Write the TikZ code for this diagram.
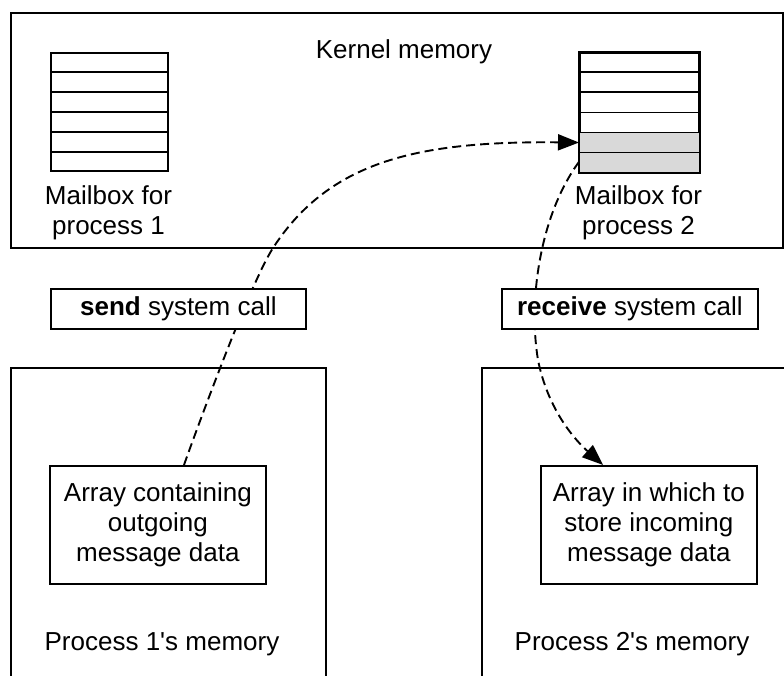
\documentclass[tikz,border=0pt]{standalone}
\usepackage{fontspec}
\setmainfont{Liberation Sans}[Ligatures=TeXOff]
\usetikzlibrary{arrows.meta,calc}
\begin{document}
\begin{tikzpicture}[x=1pt,y=-1pt,
  box/.style={draw,line width=1.7pt,inner sep=0pt,anchor=north west},
  lbl/.style={font=\fontsize{26}{30}\selectfont,align=center,inner sep=0pt},
  callbox/.style={box,fill=white,font=\fontsize{26}{30}\selectfont},
  arrbox/.style={box,fill=white,align=center,font=\fontsize{26}{30}\selectfont},
  rowline/.style={line width=1.7pt},
  flow/.style={line width=1.9pt,dash pattern=on 9pt off 5pt,-{Triangle[length=21pt,width=16pt]}}]
\useasboundingbox (0,0) rectangle (784,675);
\path[clip] (0,0) rectangle (784,675);

% kernel memory
\node[box,minimum width=772pt,minimum height=235pt] (kernel) at (10,12) {};
\node[lbl,anchor=base] (kl) at (404,58) {Kernel memory};

% mailbox 1
\node[box,minimum width=117pt,minimum height=118pt] (mb1) at (50,52) {};
\foreach \k in {1,...,5}
  \draw[rowline] ($(mb1.north west)!\k/6!(mb1.south west)$) -- ($(mb1.north east)!\k/6!(mb1.south east)$);
\node[lbl] (mb1l) at (108.5,213) {Mailbox for\\process 1};

% mailbox 2
\node[box,minimum width=119pt,minimum height=119pt] (mb2) at (579,52) {};
\fill[gray!30] ($(mb2.north west)!4/6!(mb2.south west)$) rectangle (mb2.south east);
\draw[rowline] (mb2.north west) rectangle (mb2.south east);
\foreach \k in {1,...,5}
  \draw[rowline] ($(mb2.north west)!\k/6!(mb2.south west)$) -- ($(mb2.north east)!\k/6!(mb2.south east)$);
\node[lbl] (mb2l) at (638.5,213) {Mailbox for\\process 2};

% process memories
\node[box,minimum width=315pt,minimum height=340pt] (p1) at (10,367) {};
\node[box,minimum width=330pt,minimum height=340pt] (p2) at (481,367) {};
\node[lbl,anchor=base] (p1l) at (162,650) {Process 1's memory};
\node[lbl,anchor=base] (p2l) at (632,650) {Process 2's memory};

% arrays
\node[arrbox,minimum width=216pt,minimum height=118pt] (arr1) at (49,465) {Array containing\\outgoing\\message data};
\node[arrbox,minimum width=216pt,minimum height=118pt] (arr2) at (540,465) {Array in which to\\store incoming\\message data};

% connectors
\coordinate (s0) at ($(arr1.north west)!0.62!(arr1.north east)$);
\coordinate (t1) at ($(mb2.north west)!0.75!(mb2.south west)$);
\coordinate (r0) at ($(mb2.north west)!0.91!(mb2.south west)$);
\coordinate (r1) at ($(arr2.north west)!0.29!(arr2.north east)$);
\draw[flow] (s0) .. controls (200,420) and (251,282) .. (273,248)
                 .. controls (330,160) and (420,141) .. (t1);
\draw[flow] (r0) .. controls (540,215) and (528,300) .. (538,360)
                 .. controls (548,410) and (575,440) .. (r1);

% system call boxes
\node[callbox,minimum width=255pt,minimum height=40pt] (send) at (50,288) {\textbf{send} system call};
\node[callbox,minimum width=256pt,minimum height=40pt] (recv) at (501,288) {\textbf{receive} system call};
\end{tikzpicture}
\end{document}
